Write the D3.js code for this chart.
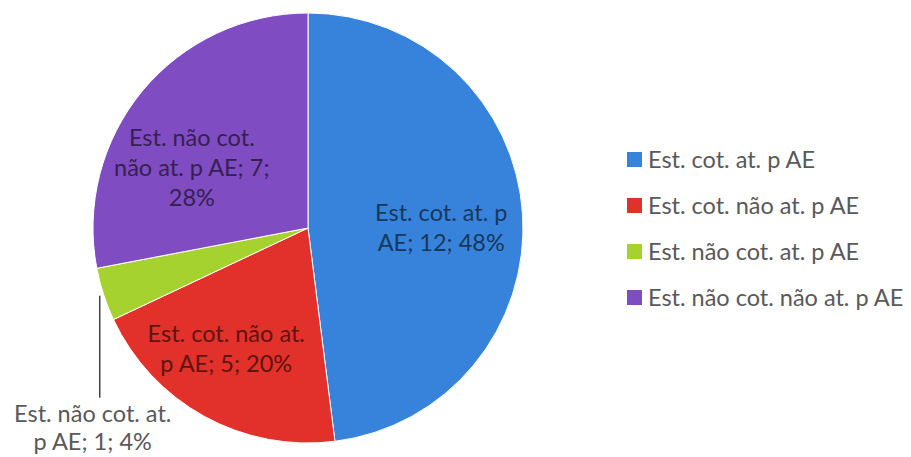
<!DOCTYPE html>
<html>
<head>
<meta charset="utf-8">
<script src="https://cdn.jsdelivr.net/npm/d3@7"></script>
<style>
  body { margin: 0; background: #fff; }
  text { font-family: Lato, "Open Sans", sans-serif; }
</style>
</head>
<body>
<svg id="chart"></svg>
<script>
// Pie: Est. cot./não cot. x at./não at. p AE

const categories = ["Est. cot. at. p AE", "Est. cot. não at. p AE", "Est. não cot. at. p AE", "Est. não cot. não at. p AE"];
const values = [12, 5, 1, 7];
const colors = ["#3783dc", "#e2302a", "#a6d230", "#7f4cc2"];
// word counts after which the data label wraps to a new line
const labelBreaks = [[4], [4], [4], [3, 8]];

const chartWidth = 911;
const chartHeight = 457;

const svg = d3.select("#chart")
    .attr("width", chartWidth)
    .attr("height", chartHeight);

const cx = 308, cy = 228, radius = 215;
const fontSize = 23.5;
const lineHeight = 30;

const data = categories.map((c, i) => ({ name: c, value: values[i], color: colors[i], breaks: labelBreaks[i] }));
const total = d3.sum(values);
const pct = d3.format(".0%");

const color = d3.scaleOrdinal().domain(categories).range(colors);

const pie = d3.pie().sort(null).value(d => d.value);
const arcs = pie(data);

const arc = d3.arc().innerRadius(0).outerRadius(radius);
const labelArc = d3.arc().innerRadius(0).outerRadius(radius * 1.27);

const g = svg.append("g")
    .attr("transform", `translate(${cx}, ${cy})`);

g.selectAll("path.slice")
    .data(arcs)
    .join("path")
    .attr("class", "slice")
    .attr("d", arc)
    .attr("fill", d => color(d.data.name))
    .attr("stroke", "#fff")
    .attr("stroke-width", 1);

function labelLines(d) {
    const words = `${d.name}; ${d.value}; ${pct(d.value / total)}`.split(" ");
    const lines = [];
    let start = 0;
    d.breaks.concat([words.length]).forEach(b => {
        lines.push(words.slice(start, b).join(" "));
        start = b;
    });
    return lines;
}

// small nudges so labels sit where the original chart put them
const labelNudge = [[-3, 8], [-16, 1], [0, 0], [-11, 27]];

arcs.forEach((d, i) => {
    const lines = labelLines(d.data);
    const span = d.endAngle - d.startAngle;
    if (span > 0.4) {
        const [x, y] = labelArc.centroid(d);
        const nx = x + labelNudge[i][0];
        const ny = y + labelNudge[i][1];
        const t = g.append("text")
            .attr("text-anchor", "middle")
            .attr("font-size", fontSize)
            .attr("fill", d3.color(d.data.color).darker(2.4));
        lines.forEach((l, j) => {
            t.append("tspan")
                .attr("x", nx)
                .attr("y", ny + (j - (lines.length - 1) / 2) * lineHeight)
                .attr("dy", "0.35em")
                .text(l);
        });
    } else {
        // small slice: label outside with a leader line
        const mid = (d.startAngle + d.endAngle) / 2;
        const sx = Math.sin(mid) * (radius + 4);
        const sy = -Math.cos(mid) * (radius + 4);
        const ly = sy + 118;
        g.append("line")
            .attr("x1", sx).attr("y1", sy)
            .attr("x2", sx).attr("y2", ly - 16)
            .attr("stroke", "#404040")
            .attr("stroke-width", 1.5);
        const t = g.append("text")
            .attr("text-anchor", "middle")
            .attr("font-size", fontSize)
            .attr("fill", "#595959");
        lines.forEach((l, j) => {
            t.append("tspan")
                .attr("x", sx - 7)
                .attr("y", ly + j * 28)
                .attr("dy", "0.35em")
                .text(l);
        });
    }
});

// legend
const legendY = d3.scaleBand()
    .domain(categories)
    .range([137, 321]);

const legend = svg.append("g")
    .attr("transform", "translate(627, 0)");

const items = legend.selectAll("g")
    .data(categories)
    .join("g")
    .attr("transform", d => `translate(0, ${legendY(d) + legendY.bandwidth() / 2})`);

items.append("rect")
    .attr("x", 0)
    .attr("y", -8)
    .attr("width", 15)
    .attr("height", 15)
    .attr("fill", d => color(d));

items.append("text")
    .attr("x", 21)
    .attr("dy", "0.35em")
    .attr("font-size", fontSize)
    .attr("fill", "#595959")
    .text(d => d);
</script>
</body>
</html>
